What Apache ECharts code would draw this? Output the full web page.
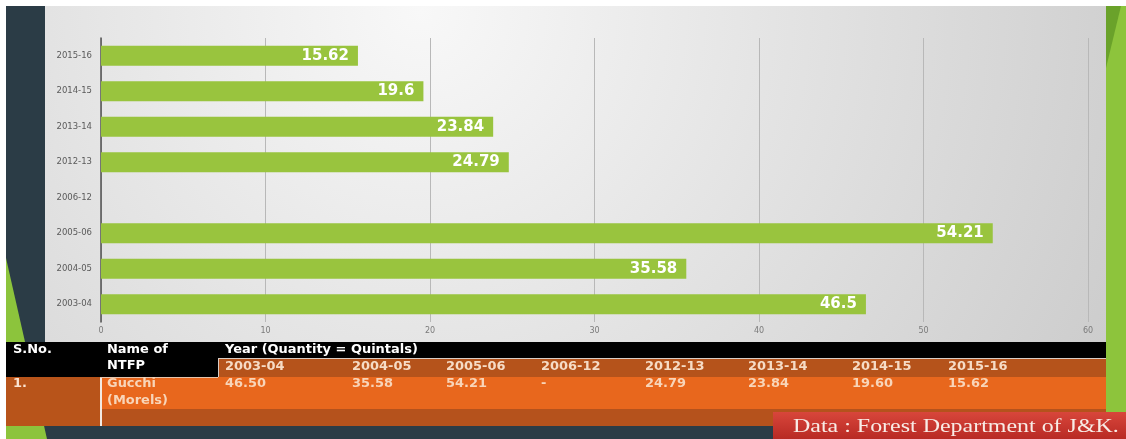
<!DOCTYPE html>
<html>
<head>
<meta charset="utf-8">
<script src="https://cdn.jsdelivr.net/npm/echarts@6/dist/echarts.min.js"></script>
<style>
html, body { margin: 0; padding: 0; background: #fff; }
#chart { width: 1126px; height: 439px; }
</style>
</head>
<body>
<div id="chart"></div>
<script>
// years, left to right in the table and bottom to top in the chart
var years = ['2003-04', '2004-05', '2005-06', '2006-12', '2012-13', '2013-14', '2014-15', '2015-16']
// quantity in quintals, 2006-12 has no value ('-')
var quantity = [46.5, 35.58, 54.21, null, 24.79, 23.84, 19.6, 15.62]
var xTicks = [0, 10, 20, 30, 40, 50, 60]
var headCells = ['S.No.', 'Name of', 'NTFP', 'Year (Quantity = Quintals)']
var ntfpRow = ['1.', 'Gucchi', '(Morels)']
var sourceText = 'Data : Forest Department of J&K.'

// x position of each year column in the table
var yearColX = [225, 352, 446, 541, 645, 748, 852, 948]

var chart = echarts.init(document.getElementById('chart'))

var font = '"DejaVu Sans", Verdana, sans-serif'

// the slide is a bit stretched sideways, so table text gets a small scaleX
function txt(x, y, text, color) {
  return {
    type: 'text', x: x, y: y, z: 5, scaleX: 1.08,
    style: {
      text: text, fill: color, font: 'bold 12px ' + font,
      verticalAlign: 'middle'
    }
  }
}
function box(x, y, w, h, fill, z) {
  return { type: 'rect', z: z || 1, silent: true, shape: { x: x, y: y, width: w, height: h }, style: { fill: fill } }
}

var graphics = [
  // slide panel behind the chart
  {
    type: 'rect', z: -10, silent: true,
    shape: { x: 45, y: 6, width: 1061, height: 336 },
    style: {
      fill: new echarts.graphic.RadialGradient(420, 10, 760, [
        { offset: 0, color: '#f8f8f8' },
        { offset: 1, color: '#cdcdcd' }
      ], true)
    }
  },
  box(6, 6, 39, 336, '#2b3c46', -9),
  box(6, 426, 767, 13, '#2b3c46', -9),
  { type: 'polygon', z: -8, silent: true, shape: { points: [[6, 258], [47, 439], [6, 439]] }, style: { fill: '#8cc43c' } },
  box(1106, 6, 20, 406, '#8dc43c', -9),
  { type: 'polygon', z: -8, silent: true, shape: { points: [[1106, 6], [1121, 6], [1106, 68]] }, style: { fill: '#6aa22a' } },

  // table
  box(6, 342, 1100, 35, '#000000'),
  box(218, 359, 888, 18, '#b5531b', 2),
  box(218, 358, 888, 1, '#d8cdc6', 3),
  box(218, 358, 1, 19, '#d8cdc6', 3),
  box(6, 377, 94, 49, '#b8541a'),
  box(102, 377, 1004, 32, '#e8671d'),
  box(102, 409, 1004, 17, '#b5521c'),
  box(100, 377, 2, 49, '#f2e9e2', 3),
  box(100, 377, 118, 1, '#e6c4ab', 3),

  txt(13, 350, headCells[0], '#ffffff'),
  txt(107, 350, headCells[1], '#ffffff'),
  txt(107, 366, headCells[2], '#ffffff'),
  txt(225, 350, headCells[3], '#ffffff'),
  txt(13, 384, ntfpRow[0], '#fbe4d2'),
  txt(107, 384, ntfpRow[1], '#f8d5b9'),
  txt(107, 401, ntfpRow[2], '#f8d5b9'),

  // source box
  {
    type: 'rect', z: 4, silent: true,
    shape: { x: 773, y: 412, width: 353, height: 27 },
    style: {
      fill: new echarts.graphic.LinearGradient(0, 0, 0, 1, [
        { offset: 0, color: '#d8463b' },
        { offset: 1, color: '#b82a24' }
      ])
    }
  },
  {
    type: 'text', x: 793, y: 427, z: 5, scaleX: 1.33,
    style: { text: sourceText, fill: '#f8ece6', font: '18px "Liberation Serif", "Times New Roman", serif', verticalAlign: 'middle' }
  }
]

years.forEach(function (y, i) {
  graphics.push(txt(yearColX[i], 367, y, '#f6dcc6'))
  var v = quantity[i]
  graphics.push(txt(yearColX[i], 384, v == null ? '-' : v.toFixed(2), '#f8d5b9'))
})

chart.setOption({
  backgroundColor: '#ffffff',
  animation: false,
  grid: {
    left: 101,
    right: 38,
    top: 38,
    bottom: 117,
    containLabel: false
  },
  xAxis: {
    type: 'value',
    min: xTicks[0],
    max: xTicks[xTicks.length - 1],
    interval: xTicks[1] - xTicks[0],
    axisLine: { show: false },
    axisTick: { show: false },
    axisLabel: { color: '#7a7a7a', fontSize: 8, margin: 5, fontFamily: font },
    splitLine: { lineStyle: { color: '#b8b8b8', width: 1 } }
  },
  yAxis: {
    type: 'category',
    data: years,
    axisLine: { lineStyle: { color: '#505050', width: 1.5 } },
    axisTick: { show: false },
    axisLabel: { color: '#5a5a5a', fontSize: 8.5, margin: 9, fontFamily: font }
  },
  series: [{
    type: 'bar',
    data: quantity,
    barWidth: 20,
    itemStyle: { color: '#99c43e' },
    label: {
      show: true,
      position: 'insideRight',
      distance: 9,
      color: '#ffffff',
      fontWeight: 'bold',
      fontSize: 15,
      fontFamily: font
    }
  }],
  graphic: graphics
})
</script>
</body>
</html>
